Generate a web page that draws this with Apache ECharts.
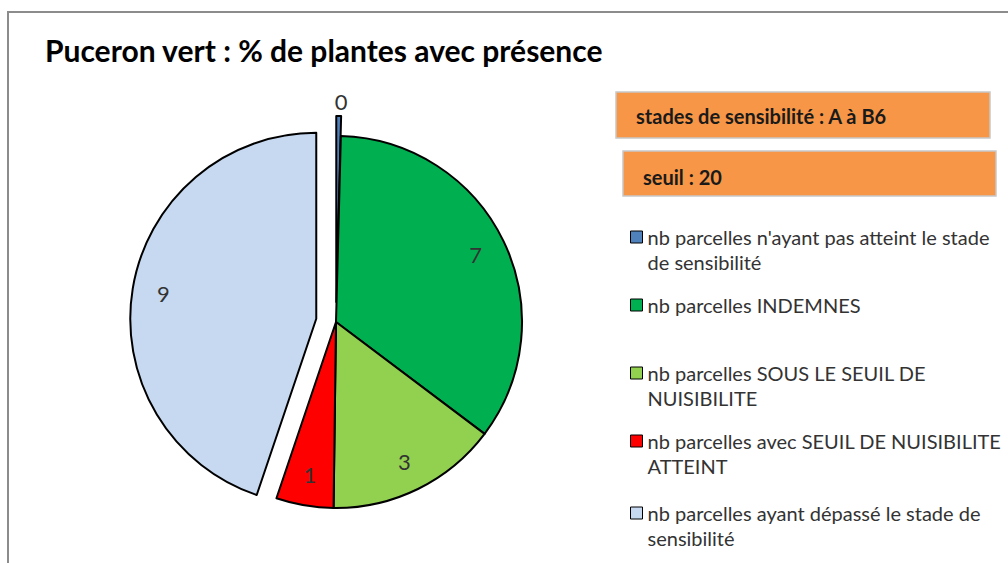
<!DOCTYPE html>
<html>
<head>
<meta charset="utf-8">
<script src="https://cdn.jsdelivr.net/npm/echarts@6/dist/echarts.min.js"></script>
<style>
html, body { margin: 0; padding: 0; background: #fff; }
#chart { width: 1008px; height: 563px; }
</style>
</head>
<body>
<div id="chart"></div>
<script>
// Data
const categories = [
    "nb parcelles n'ayant pas atteint le stade de sensibilité",
    "nb parcelles INDEMNES",
    "nb parcelles SOUS LE SEUIL DE NUISIBILITE",
    "nb parcelles avec SEUIL DE NUISIBILITE ATTEINT",
    "nb parcelles ayant dépassé le stade de sensibilité"
];
const legendLabels = [
    "nb parcelles n'ayant pas atteint le stade\nde sensibilité",
    "nb parcelles INDEMNES",
    "nb parcelles SOUS LE SEUIL DE\nNUISIBILITE",
    "nb parcelles avec SEUIL DE NUISIBILITE\nATTEINT",
    "nb parcelles ayant dépassé le stade de\nsensibilité"
];
const values = [0, 7, 3, 1, 9];
const explodedSlices = [0, 4];

const sliceColors = ["#4F81BD", "#00B050", "#92D050", "#FF0000", "#C6D9F1"];
const FONT = "Lato";

const chart = echarts.init(document.getElementById("chart"), null, { renderer: "svg" });

// pie geometry
const center = [336, 322];
const R = 186;
const OFFSET = 20;

const pieData = categories.map((name, i) => ({
    name: name,
    value: values[i],
    selected: explodedSlices.indexOf(i) >= 0,
    itemStyle: { color: sliceColors[i] }
}));

const labelData = categories.map((name, i) => {
    const item = {
        name: name,
        value: values[i],
        selected: explodedSlices.indexOf(i) >= 0
    };
    if (values[i] === 0) {
        item.label = { position: "outside" };
    }
    return item;
});

// one legend per entry so each line sits where it does in the reference.
// two-line entries get a tall icon whose square sits at the top, so the
// square lines up with the first line of text
const LINE = 25;
const ICON = 12;
const legendLineY = [237, 305, 373, 441, 513];
const legends = categories.map((name, i) => {
    const twoLines = legendLabels[i].indexOf("\n") >= 0;
    const h = twoLines ? ICON + LINE : ICON;
    return {
        data: [name],
        left: 630,
        top: legendLineY[i] - LINE / 2,
        padding: 0,
        icon: twoLines
            ? "path://M0 0H" + ICON + "V" + ICON + "H0Z M0 " + h
            : "rect",
        itemWidth: ICON,
        itemHeight: h,
        selectedMode: false,
        formatter: (n) => legendLabels[categories.indexOf(n)],
        itemStyle: { borderColor: "#000", borderWidth: 1 },
        textStyle: {
            fontFamily: FONT,
            fontSize: 20,
            lineHeight: LINE,
            color: "#333"
        }
    };
});

const option = {
    animation: false,
    title: {
        text: "Puceron vert : % de plantes avec présence",
        left: 45,
        top: 35,
        padding: 0,
        textStyle: { fontFamily: FONT, fontSize: 30, fontWeight: "bold", color: "#000" }
    },
    legend: legends,
    graphic: [
        {
            type: "rect",
            shape: { x: 8, y: 12, width: 1010, height: 570 },
            style: { fill: "none", stroke: "#8c8c8c", lineWidth: 2 },
            silent: true
        },
        {
            type: "rect",
            shape: { x: 616, y: 92, width: 374, height: 46 },
            style: { fill: "#F79646", stroke: "#c8c8c8", lineWidth: 1.5 },
            silent: true
        },
        {
            type: "text",
            x: 636, y: 116,
            style: { text: "stades de sensibilité : A à B6", fontFamily: FONT, fontSize: 20, fontWeight: "bold", fill: "#1a1a1a", verticalAlign: "middle" },
            silent: true
        },
        {
            type: "rect",
            shape: { x: 623, y: 151, width: 373, height: 45 },
            style: { fill: "#F79646", stroke: "#c8c8c8", lineWidth: 1.5 },
            silent: true
        },
        {
            type: "text",
            x: 643, y: 177,
            style: { text: "seuil : 20", fontFamily: FONT, fontSize: 20, fontWeight: "bold", fill: "#1a1a1a", verticalAlign: "middle" },
            silent: true
        }
    ],
    series: [
        {
            type: "pie",
            center: center,
            radius: [0, R],
            startAngle: 90,
            clockwise: true,
            minAngle: 1.5,
            selectedMode: "multiple",
            selectedOffset: OFFSET,
            avoidLabelOverlap: false,
            label: { show: false },
            labelLine: { show: false },
            itemStyle: { borderColor: "#000", borderWidth: 2 },
            select: { itemStyle: { borderColor: "#000", borderWidth: 2 } },
            emphasis: { disabled: true },
            data: pieData
        },
        {
            // transparent ring carrying the data labels at ~0.8 of the radius
            type: "pie",
            center: center,
            radius: [118, R],
            startAngle: 90,
            clockwise: true,
            minAngle: 1.5,
            selectedMode: "multiple",
            selectedOffset: OFFSET,
            avoidLabelOverlap: false,
            silent: true,
            legendHoverLink: false,
            itemStyle: { color: "rgba(0,0,0,0)", borderWidth: 0 },
            select: { itemStyle: { color: "rgba(0,0,0,0)", borderWidth: 0 } },
            emphasis: { disabled: true },
            label: {
                show: true,
                position: "inside",
                formatter: "{c}",
                fontFamily: FONT,
                fontSize: 22,
                color: "#333"
            },
            labelLine: { show: false, length: 4, length2: 0 },
            // centre the zero label above its sliver
            labelLayout: (params) => (values[params.dataIndex] === 0 ? { dx: -9, dy: -11 } : {}),
            data: labelData
        }
    ]
};

chart.setOption(option);
</script>
</body>
</html>
